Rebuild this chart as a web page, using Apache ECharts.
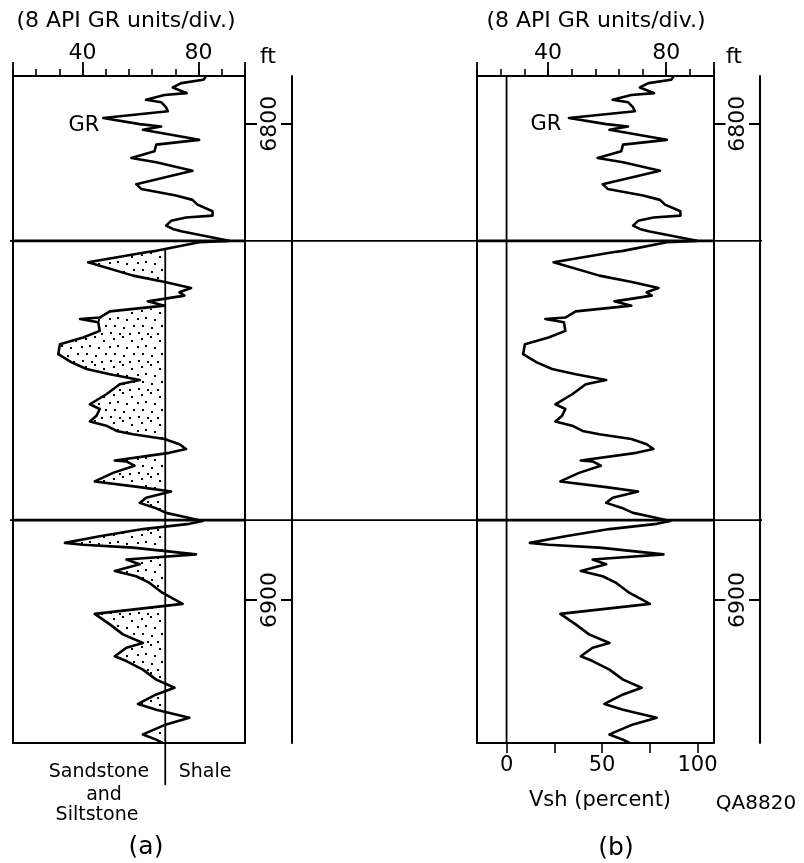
<!DOCTYPE html>
<html><head><meta charset="utf-8">
<script src="https://cdn.jsdelivr.net/npm/echarts@6/dist/echarts.min.js"></script>
<style>html,body{margin:0;padding:0;background:#fff}#c{width:804px;height:863px}</style>
</head><body><div id="c"></div>
<script>
const depthFt = [
 6790.2,6790.8,6791.5,6792.4,6793.6,6794.0,6795.0,6795.5,6796.6,6797.4,6798.8,6800.1,6800.6,6801.3,6803.4,
 6804.4,6805.8,6807.2,6808.1,6809.9,6812.7,6813.7,6815.1,6816.0,6817.0,6818.4,6819.3,6819.7,6820.4,6821.4,
 6822.1,6822.6,6823.9,6824.6,
 6824.9,6826.7,6827.0,6829.1,6831.9,6833.3,6834.5,6835.4,6836.1,6837.3,6838.2,6838.6,6839.4,6840.7,6841.0,
 6841.7,6843.5,6844.9,6846.3,6848.4,6850.1,6851.5,6852.6,6853.8,6854.7,6856.8,6858.9,6859.9,6861.3,6862.5,
 6863.4,6864.5,6865.2,6866.2,6867.3,6868.3,6869.1,6870.7,6870.9,6871.8,6873.3,6875.1,6876.3,6877.2,6878.5,
 6879.6,6880.6,6881.7,6882.6,6883.4,
 6884.0,6885.1,6886.6,6888.0,6888.4,6889.0,6890.4,6891.5,6892.5,6893.9,6895.0,6896.4,6898.5,6900.8,6902.9,
 6905.1,6907.2,6909.0,6910.0,6911.8,6912.8,6914.6,6916.7,6918.4,6919.8,6921.8,6923.0,6924.7,6926.1,6928.2,
 6929.3,6930.0
];
const grApi = [
 82.5,81.6,74.0,71.1,75.9,68.2,61.9,67.1,68.8,69.4,47.1,59.7,67.1,60.8,80.2,
 65.4,64.8,56.8,65.4,77.9,58.5,60.2,72.2,77.9,79.6,84.8,84.8,75.7,70.5,68.8,
 71.1,74.0,84.8,90.5,
 80.2,65.4,61.9,41.9,57.4,68.8,77.4,73.4,75.1,62.5,68.2,68.5,49.4,45.9,39.1,
 45.4,45.9,40.2,32.2,31.6,36.2,41.4,49.4,59.7,52.8,48.2,42.5,45.9,44.8,42.5,
 48.2,51.7,57.4,68.2,73.4,75.7,69.9,51.1,55.1,57.9,50.5,44.2,59.7,70.5,61.9,
 59.7,64.8,68.8,75.7,81.4,
 76.8,60.8,45.9,33.9,40.2,57.4,79.1,55.1,59.7,51.1,58.5,63.1,67.6,74.5,44.2,
 49.4,53.9,60.8,55.1,51.1,55.1,60.8,65.4,71.7,65.4,59.1,65.4,76.8,68.8,60.8,
 65.4,67.6
];
const zoneBoundaries = [6824.6, 6883.2];
const shaleBaseline = 68.5;
const grMin = 16, grMax = 96, grDiv = 8;
const grMajorTicks = [16, 40, 80, 96];
const grLabelValues = [40, 80];
const depthMin = 6790, depthMax = 6930;
const depthLabels = [6800, 6900];
const vshCleanGR = 26, vshShaleGR = 90.6;
const vshTicks = [0, 25, 50, 75, 100];
const vshLabels = [0, 50, 100];

// ---- helpers ----
const FONT = '"DejaVu Sans", sans-serif';
const BLK = '#000';
const vshMin = (grMin - vshCleanGR) / (vshShaleGR - vshCleanGR) * 100;
const vshMax = (grMax - vshCleanGR) / (vshShaleGR - vshCleanGR) * 100;
const logPairs = depthFt.map((d, i) => [grApi[i], d]);

const dotCanvas = document.createElement('canvas');
dotCanvas.width = 28; dotCanvas.height = 28;
(function(){
  const c = dotCanvas.getContext('2d');
  c.fillStyle = '#000';
  [[1,2],[10,0],[19,4],[25,10],[5,9],[14,11],[21,17],[2,17],[11,19],[17,25],[7,25],[26,24]].forEach(p=>{
    c.fillRect(p[0],p[1],2,2);
  });
})();

function topMinorAxis(g){return {gridIndex:g,type:'value',position:'top',min:grMin,max:grMax,interval:grDiv,
  axisLine:{show:true,onZero:false,lineStyle:{color:BLK,width:2}},
  axisTick:{show:true,length:7,lineStyle:{color:BLK,width:1.6}},
  axisLabel:{show:false},splitLine:{show:false}};}
function topMajorAxis(g){return {gridIndex:g,type:'value',position:'top',min:grMin,max:grMax,
  axisLine:{show:false,onZero:false},
  axisTick:{show:true,length:14,customValues:grMajorTicks,lineStyle:{color:BLK,width:1.8}},
  axisLabel:{show:true,customValues:grLabelValues,fontSize:22,fontFamily:FONT,color:BLK,margin:12},
  splitLine:{show:false}};}
function depthAxisBase(g){return {gridIndex:g,type:'value',inverse:true,min:depthMin,max:depthMax,splitLine:{show:false}};}
function depthLabelAxis(g){return Object.assign(depthAxisBase(g),{position:'right',axisLine:{show:true,onZero:false,lineStyle:{color:BLK,width:2}},
      axisTick:{show:true,length:12,customValues:depthLabels,lineStyle:{color:BLK,width:2}},
      axisLabel:{show:true,customValues:depthLabels,rotate:90,fontSize:22,fontFamily:FONT,color:BLK,margin:14,
        formatter:function(v){return String(v);}}});}
function trackAxis(g,off){return Object.assign(depthAxisBase(g),{position:'right',offset:off,axisLine:{show:true,onZero:false,lineStyle:{color:BLK,width:2}},
      axisTick:{show:true,inside:true,length:11,customValues:depthLabels,lineStyle:{color:BLK,width:2}},axisLabel:{show:false}});}
function leftAxis(g){return Object.assign(depthAxisBase(g),{position:'left',axisLine:{show:true,onZero:false,lineStyle:{color:BLK,width:2}},axisTick:{show:false},axisLabel:{show:false}});}

function customLines(xi, yi, builder, z){
  return {type:'custom',xAxisIndex:xi,yAxisIndex:yi,data:[[0,0]],silent:true,clip:false,z:z||4,
    renderItem:function(params, api){return {type:'group',children:builder(api)};}};
}
function seg(p1,p2,w){return {type:'line',shape:{x1:p1[0],y1:p1[1],x2:p2[0],y2:p2[1]},style:{stroke:BLK,lineWidth:w}};}
function txt(x,y,s,size){return {type:'text',x:x,y:y,style:{text:s,font:size+'px '+FONT,fill:BLK,textAlign:'center',textVerticalAlign:'middle'}};}

const option = {
  backgroundColor:'#fff',
  animation:false,
  grid:[
    {left:13,top:76,width:232,height:667},
    {left:477,top:76,width:236.5,height:667},
    {left:10,top:76,width:752,height:667}
  ],
  xAxis:[
    topMinorAxis(0),                                   //0
    topMajorAxis(0),                                   //1
    {gridIndex:0,type:'value',position:'bottom',min:grMin,max:grMax,
     axisLine:{show:true,onZero:false,lineStyle:{color:BLK,width:2}},axisTick:{show:false},axisLabel:{show:false},splitLine:{show:false}}, //2
    topMinorAxis(1),                                   //3
    topMajorAxis(1),                                   //4
    {gridIndex:1,type:'value',position:'bottom',min:vshMin,max:vshMax,
     axisLine:{show:true,onZero:false,lineStyle:{color:BLK,width:2}},
     axisTick:{show:true,length:10,customValues:vshTicks,lineStyle:{color:BLK,width:1.6}},
     axisLabel:{show:true,customValues:vshLabels,fontSize:21,fontFamily:FONT,color:BLK,margin:12},
     splitLine:{show:false}},                          //5
    {gridIndex:2,type:'value',min:0,max:1,show:false}  //6
  ],
  yAxis:[
    leftAxis(0),           //0
    depthLabelAxis(0),     //1
    trackAxis(0,47),       //2
    leftAxis(1),           //3
    depthLabelAxis(1),     //4
    trackAxis(1,46.5),     //5
    Object.assign(depthAxisBase(2),{show:false}) //6
  ],
  series:[
    // stipple fill between GR and shale baseline (panel a)
    {type:'custom',xAxisIndex:0,yAxisIndex:0,data:[[0,0]],silent:true,z:2,
     renderItem:function(params, api){
       const top = zoneBoundaries[0];
       const s = [];
       depthFt.forEach((d,i)=>{ if(d>=top) s.push({d:d,g:grApi[i]}); });
       const pts = [api.coord([shaleBaseline, s[0].d])];
       let firstCross = null;
       for(let i=0;i<s.length;i++){
         if(i>0){
           const a=s[i-1], b=s[i];
           if((a.g-shaleBaseline)*(b.g-shaleBaseline)<0){
             const t=(shaleBaseline-a.g)/(b.g-a.g);
             const dc=a.d+t*(b.d-a.d);
             if(firstCross===null) firstCross=dc;
             pts.push(api.coord([shaleBaseline, dc]));
           }
         }
         pts.push(api.coord([Math.min(s[i].g, shaleBaseline), s[i].d]));
       }
       pts.push(api.coord([shaleBaseline, s[s.length-1].d]));
       const b0 = api.coord([shaleBaseline, firstCross]);
       const b1 = api.coord([shaleBaseline, depthMax]);
       return {type:'group',children:[
         {type:'polygon',shape:{points:pts},style:{fill:{image:dotCanvas,repeat:'repeat'},stroke:null}},
         seg(b0,[b1[0],b1[1]+42],1.8)
       ]};
     }},
    // GR curves
    {type:'line',xAxisIndex:0,yAxisIndex:0,data:logPairs,showSymbol:false,symbol:'none',z:5,
     lineStyle:{color:BLK,width:2.6,join:'round'}},
    {type:'line',xAxisIndex:3,yAxisIndex:3,data:logPairs,showSymbol:false,symbol:'none',z:5,
     lineStyle:{color:BLK,width:2.6,join:'round'}},
    // Vsh = 0 line (panel b)
    customLines(5,3,function(api){return [seg(api.coord([0,depthMin]),api.coord([0,depthMax]),1.8)];}),
    // zone boundaries, full width (thin)
    customLines(6,6,function(api){return zoneBoundaries.map(d=>seg(api.coord([0,d]),api.coord([1,d]),1.7));}),
    // zone boundaries, thick within panels
    customLines(0,0,function(api){return zoneBoundaries.map(d=>seg(api.coord([grMin,d]),api.coord([grMax,d]),2.8));},6),
    customLines(3,3,function(api){return zoneBoundaries.map(d=>seg(api.coord([grMin,d]),api.coord([grMax,d]),2.8));},6)
  ],
  graphic:[
    txt(126,21,'(8 API GR units/div.)',22),
    txt(596,21,'(8 API GR units/div.)',22),
    txt(268,57,'ft',22),
    txt(734,57,'ft',22),
    txt(84,126,'GR',21),
    txt(546,125,'GR',21),
    txt(99,772,'Sandstone',19),
    txt(104,795,'and',19),
    txt(97,815,'Siltstone',19),
    txt(205,772,'Shale',19),
    txt(600,801,'Vsh (percent)',21),
    txt(756,804,'QA8820',20),
    txt(146,847,'(a)',25),
    txt(616,848,'(b)',25)
  ]
};
const chart = echarts.init(document.getElementById('c'), null, {renderer:'canvas'});
chart.setOption(option);
</script>
</body></html>
